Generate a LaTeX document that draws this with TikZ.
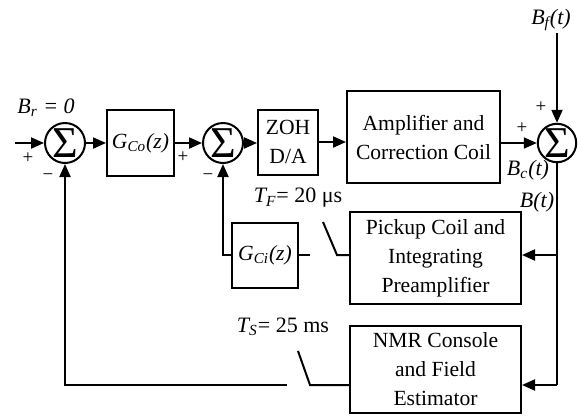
\documentclass[tikz,border=0pt]{standalone}
\usepackage{fontspec}
\setmainfont{Liberation Serif}
\usetikzlibrary{arrows.meta,positioning,calc}

\newcommand{\blkfont}{\fontsize{10.8}{14.5}\selectfont}
\newcommand{\lblfont}{\fontsize{11}{13}\selectfont}
\newcommand{\sumsym}{\fontsize{22}{22}\selectfont Σ}

\tikzset{
  blk/.style={draw, line width=1pt, inner sep=0pt, align=center, font=\blkfont},
  sumnode/.style={draw, circle, line width=1pt, inner sep=0pt, minimum size=20pt},
  sig/.style={-{Triangle[length=6.5pt,width=5.5pt]}, line width=1pt},
  wire/.style={line width=1pt},
  sgn/.style={font=\fontsize{9.5}{9.5}\selectfont, inner sep=0pt},
  lbl/.style={font=\lblfont, inner sep=0pt},
}

\begin{document}
\begin{tikzpicture}[x=0.5pt,y=-0.5pt]
    \useasboundingbox (0,0) rectangle (578,418);

    % Summing junctions
    \node[sumnode] (s1) at (65,143) {\sumsym};
    \node[sumnode] (s2) at (223,143) {\sumsym};
    \node[sumnode, minimum size=19pt] (s3) at (557,143) {\sumsym};

    % Blocks
    \node[blk, minimum width=33.5pt, minimum height=33pt] (gco) at (140.5,143) {\textit{G\textsubscript{Co}(z)}};
    \node[blk, minimum width=30pt, minimum height=32.5pt] (zoh) at (288,142) {ZOH\\D/A};
    \node[blk, minimum width=76.5pt, minimum height=46pt] (amp) at (423.5,137) {Amplifier and\\Correction Coil};
    \node[blk, minimum width=85.5pt, minimum height=46pt] (pick) at (435.5,258) {Pickup Coil and\\Integrating\\Preamplifier};
    \node[blk, minimum width=33pt, minimum height=32.5pt] (gci) at (265,255) {\textit{G\textsubscript{Ci}(z)}};
    \node[blk, minimum width=85.5pt, minimum height=43.5pt] (nmr) at (435.5,369.5) {NMR Console\\and Field\\Estimator};

    % Forward path
    \coordinate (in) at (15,143);
    \draw[sig] (in) -- (s1);
    \draw[sig] (s1) -- (gco);
    \draw[sig] (gco) -- (s2);
    \draw[sig] (s2.east) -- (s2.east -| zoh.west);
    \draw[sig] (zoh.east) -- (zoh.east -| amp.west);
    \draw[sig] (amp.east |- s3) -- (s3);

    % Disturbance
    \coordinate (bf) at (557,33);
    \draw[sig] (bf) -- (s3);

    % Measurement branches
    \coordinate (tap1) at (557,255);
    \coordinate (tap2) at (557,385);
    \draw[wire] (s3) -- (tap2);
    \draw[sig] (tap1) -- (tap1 -| pick.east);
    \draw[sig] (tap2) -- (tap2 -| nmr.east);

    % Fast loop with sampler
    \coordinate (swf) at (337,255);
    \coordinate (swfo) at (323,222);
    \coordinate (swfi) at (310,255);
    \draw[wire] (pick.west |- tap1) -- (swf) -- (swfo);
    \draw[wire] (gci.east |- tap1) -- (swfi);
    \draw[sig] (gci.west |- tap1) -| (s2);

    % Slow loop with sampler
    \coordinate (sws) at (310,385);
    \coordinate (swso) at (298,351);
    \coordinate (swsi) at (287,385);
    \draw[wire] (nmr.west |- tap2) -- (sws) -- (swso);
    \draw[sig] (swsi) -| (s1);

    % Labels
    \node[lbl] (brlbl) at (46,108) {\textit{B\textsubscript{r} = 0}};
    \node[lbl] (bflbl) at (551,20) {\textit{B\textsubscript{f}(t)}};
    \node[lbl] (bclbl) at (528,170) {\textit{B\textsubscript{c}(t)}};
    \node[lbl] (blbl) at (537,202) {\textit{B(t)}};
    \node[lbl] (tflbl) at (298,198) {\textit{T\textsubscript{F}}= 20 μs};
    \node[lbl] (tslbl) at (283,327) {\textit{T\textsubscript{S}}= 25 ms};

    % Signs
    \node[sgn] (p1) at (28,158) {+};
    \node[sgn] (m1) at (48,177) {−};
    \node[sgn] (p2) at (183,157) {+};
    \node[sgn] (m2) at (208,177) {−};
    \node[sgn] (p3) at (541,107) {+};
    \node[sgn] (p4) at (522,128) {+};
\end{tikzpicture}
\end{document}
